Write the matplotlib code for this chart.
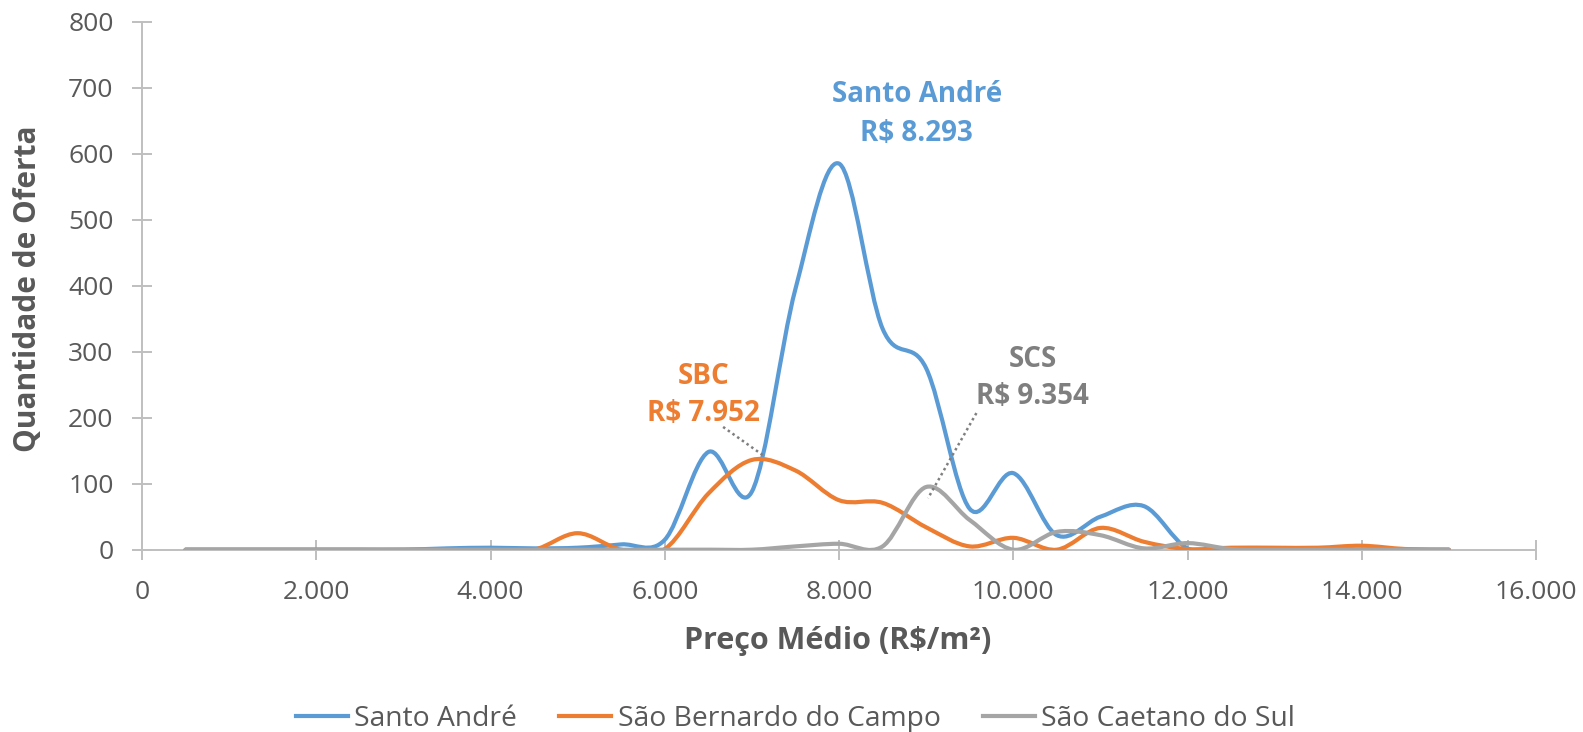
import matplotlib
matplotlib.use("Agg")
import matplotlib.pyplot as plt
from matplotlib.path import Path
from matplotlib.patches import PathPatch
from matplotlib.lines import Line2D
import numpy as np

plt.rcParams['font.family'] = ['Open Sans', 'DejaVu Sans']

# ---- data ----
precos = [500, 1000, 1500, 2000, 2500, 3000, 3500, 4000, 4500, 5000,
          5500, 6000, 6500, 7000, 7500, 8000, 8500, 9000, 9500, 10000,
          10500, 11000, 11500, 12000, 12500, 13000, 13500, 14000, 14500, 15000]
santo_andre = [0, 0, 0, 0, 0, 0, 2, 3, 2, 3,
               8, 15, 148, 88, 395, 585, 335, 275, 62, 116,
               22, 50, 66, 2, 0, 0, 0, 0, 0, 0]
sao_bernardo = [0, 0, 0, 0, 0, 0, 0, 0, 0, 25,
                0, 1, 85, 136, 120, 75, 71, 34, 5, 18,
                0, 33, 12, 1, 3, 3, 3, 6, 1, 0]
sao_caetano = [0, 0, 0, 0, 0, 0, 0, 0, 0, 0,
               0, 0, 0, 0, 5, 9, 5, 95, 45, 0,
               27, 22, 2, 10, 1, 0, 0, 0, 0, 0]
series_names = ["Santo André", "São Bernardo do Campo", "São Caetano do Sul"]
colors = ["#5B9BD5", "#ED7D31", "#A5A5A5"]
x_ticks = [0, 2000, 4000, 6000, 8000, 10000, 12000, 14000, 16000]
y_ticks = [0, 100, 200, 300, 400, 500, 600, 700, 800]

TXT = "#595959"


def smooth_path(xs, ys):
    """Excel-like smooth line: cubic Bezier segments through the points."""
    pts = np.column_stack([xs, ys]).astype(float)
    n = len(pts)
    verts = [pts[0]]
    codes = [Path.MOVETO]
    for i in range(n - 1):
        p0 = pts[i - 1] if i > 0 else pts[i]
        p1 = pts[i]
        p2 = pts[i + 1]
        p3 = pts[i + 2] if i + 2 < n else pts[i + 1]
        c1 = p1 + (p2 - p0) / 6.0
        c2 = p2 - (p3 - p1) / 6.0
        verts += [c1, c2, p2]
        codes += [Path.CURVE4] * 3
    return Path(verts, codes)


fig = plt.figure(figsize=(15.83, 7.32), dpi=100)
ax = fig.add_axes([142 / 1583, 1 - 549.7 / 732, (1536 - 142) / 1583, (549.7 - 21.7) / 732])

for ys, c in zip([santo_andre, sao_bernardo, sao_caetano], colors):
    patch = PathPatch(smooth_path(precos, ys), fill=False, edgecolor=c,
                      linewidth=3.0, capstyle='round', joinstyle='round', zorder=3)
    ax.add_patch(patch)

ax.set_xlim(0, 16000)
ax.set_ylim(0, 800)
ax.set_xticks(x_ticks)
ax.set_yticks(y_ticks)
ax.set_xticklabels(["0" if v == 0 else f"{v:,}".replace(",", ".") for v in x_ticks])
ax.set_yticklabels([str(v) for v in y_ticks])

for s in ['top', 'right']:
    ax.spines[s].set_visible(False)
for s in ['left', 'bottom']:
    ax.spines[s].set_color("#BFBFBF")
    ax.spines[s].set_linewidth(1.4)
ax.spines['bottom'].set_zorder(1)
ax.tick_params(axis='both', direction='inout', length=14, width=1.4,
               color="#BFBFBF", labelcolor=TXT, labelsize=19)
ax.tick_params(axis='x', pad=14.5)
ax.tick_params(axis='y', pad=13.5)

# annotations
lead = "#7F7F7F"
ax.plot([6670, 7129], [186, 143], linestyle=(0, (1, 1.3)), color=lead, lw=1.8, zorder=4)
ax.plot([9577, 9022], [207, 78], linestyle=(0, (1, 1.3)), color=lead, lw=1.8, zorder=4)

ax.text(8894, 689, "Santo André", color=colors[0], fontsize=20, fontweight='bold',
        ha='center', va='center')
ax.text(8894, 630, "R$ 8.293", color=colors[0], fontsize=20, fontweight='bold',
        ha='center', va='center')
ax.text(6446, 262, "SBC", color=colors[1], fontsize=20, fontweight='bold',
        ha='center', va='center')
ax.text(6446, 206, "R$ 7.952", color=colors[1], fontsize=20, fontweight='bold',
        ha='center', va='center')
ax.text(10225, 288, "SCS", color=lead, fontsize=20, fontweight='bold',
        ha='center', va='center')
ax.text(10225, 232, "R$ 9.354", color=lead, fontsize=20, fontweight='bold',
        ha='center', va='center')

fig.text(838 / 1583, 1 - 641 / 732, "Preço Médio (R$/m²)", color=TXT, fontsize=22,
         fontweight='bold', ha='center', va='center')
fig.text(28 / 1583, 1 - 289 / 732, "Quantidade de Oferta", color=TXT, fontsize=21.5,
         fontweight='bold', ha='center', va='center', rotation=90)

handles = [Line2D([], [], color=c, lw=3.0) for c in colors]
fig.legend(handles, series_names, loc='center', bbox_to_anchor=(0.5025, 1 - 719 / 732),
           ncol=3, frameon=False, fontsize=20.3, labelcolor=TXT, handlelength=1.85,
           handletextpad=0.22, columnspacing=1.5)

fig.savefig("out.png", dpi=100)
